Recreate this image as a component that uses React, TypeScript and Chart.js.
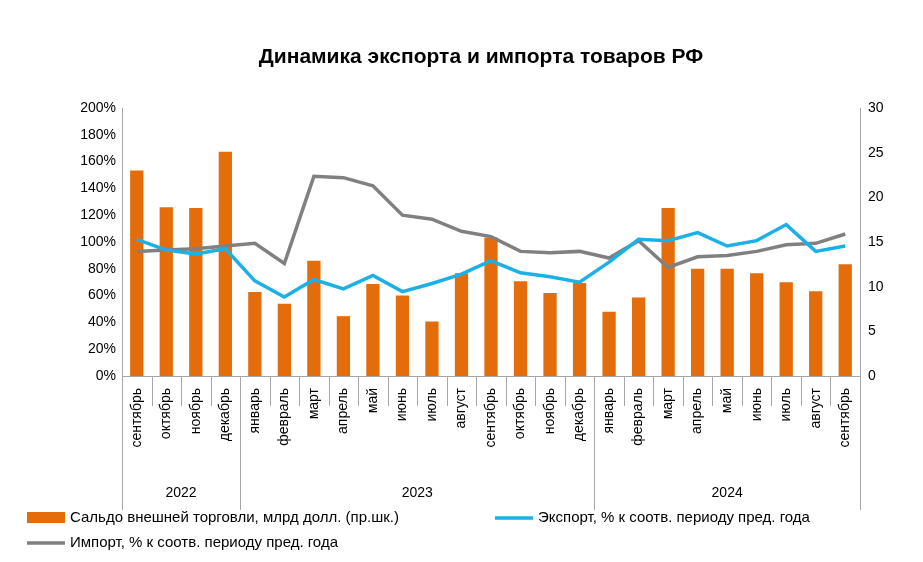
import React, { useEffect, useRef } from "react";
import { Chart, registerables } from "chart.js";
Chart.register(...registerables);

const months = ["сентябрь","октябрь","ноябрь","декабрь","январь","февраль","март","апрель","май","июнь","июль","август","сентябрь","октябрь","ноябрь","декабрь","январь","февраль","март","апрель","май","июнь","июль","август","сентябрь"];
const years = [{ label: "2022", from: 0, to: 3 }, { label: "2023", from: 4, to: 15 }, { label: "2024", from: 16, to: 24 }];
const balance = [23, 18.9, 18.8, 25.1, 9.4, 8.1, 12.9, 6.7, 10.3, 9.0, 6.1, 11.5, 15.5, 10.6, 9.3, 10.4, 7.2, 8.8, 18.8, 12.0, 12.0, 11.5, 10.5, 9.5, 12.5];
const exportPct = [102, 94, 91, 95, 71, 59, 72, 65, 75, 63, 69, 76, 86, 77, 74, 70, 85, 102, 101, 107, 97, 101, 113, 93, 97];
const importPct = [93, 94, 95, 97, 99, 84, 149, 148, 142, 120, 117, 108, 104, 93, 92, 93, 88, 101, 81, 89, 90, 93, 98, 99, 106];

const FONT = "'Liberation Sans', Arial, sans-serif";

export default function App() {
  const ref = useRef<HTMLCanvasElement>(null);
  useEffect(() => {
    document.body.style.margin = "0";
    const overlay = {
      id: "overlay",
      afterDraw(chart: any) {
        const ctx = chart.ctx;
        const x = chart.scales.x;
        const area = chart.chartArea;
        const step = x.getPixelForValue(1) - x.getPixelForValue(0);
        ctx.save();
        ctx.strokeStyle = "#a6a6a6";
        ctx.lineWidth = 1;
        const yearStarts = years.map(y => y.from);
        for (let i = 0; i <= months.length; i++) {
          const px = Math.round(x.getPixelForValue(i) - step / 2) + 0.5;
          const big = i === 0 || i === months.length || yearStarts.includes(i);
          ctx.beginPath();
          ctx.moveTo(px, area.bottom);
          ctx.lineTo(px, big ? 510 : 406);
          ctx.stroke();
        }
        ctx.fillStyle = "#000";
        ctx.font = `14px ${FONT}`;
        ctx.textAlign = "center";
        ctx.textBaseline = "middle";
        years.forEach(y => {
          const c = (x.getPixelForValue(y.from) + x.getPixelForValue(y.to)) / 2;
          ctx.fillText(y.label, c, 493);
        });
        // title
        ctx.font = `bold 21px ${FONT}`;
        ctx.fillText("Динамика экспорта и импорта товаров РФ", 481, 57);
        // legend
        ctx.font = `15px ${FONT}`;
        ctx.textAlign = "left";
        ctx.fillStyle = "#E46C0A";
        ctx.fillRect(27, 512, 38, 11);
        ctx.fillStyle = "#000";
        ctx.fillText("Сальдо внешней торговли, млрд долл. (пр.шк.)", 70, 518);
        ctx.strokeStyle = "#1BB1E7";
        ctx.lineWidth = 3.5;
        ctx.beginPath(); ctx.moveTo(495, 518); ctx.lineTo(533, 518); ctx.stroke();
        ctx.fillText("Экспорт, % к соотв. периоду пред. года", 538, 518);
        ctx.strokeStyle = "#808080";
        ctx.beginPath(); ctx.moveTo(27, 543); ctx.lineTo(65, 543); ctx.stroke();
        ctx.fillText("Импорт, % к соотв. периоду пред. года", 70, 543);
        ctx.restore();
      },
    };
    const chart = new Chart(ref.current!, {
      type: "bar",
      data: {
        labels: months,
        datasets: [
          { type: "line", label: "Экспорт", data: exportPct, yAxisID: "y", borderColor: "#1BB1E7", borderWidth: 3.5, pointRadius: 0, tension: 0, order: 1 } as any,
          { type: "line", label: "Импорт", data: importPct, yAxisID: "y", borderColor: "#808080", borderWidth: 3.5, pointRadius: 0, tension: 0, order: 2 } as any,
          { type: "bar", label: "Сальдо", data: balance, yAxisID: "y1", backgroundColor: "#E46C0A", barPercentage: 0.45, categoryPercentage: 1, order: 3 },
        ],
      },
      options: {
        animation: false,
        responsive: false,
        layout: { padding: { top: 108, left: 0, right: 0, bottom: 0 } },
        plugins: { legend: { display: false }, tooltip: { enabled: false } },
        scales: {
          x: {
            grid: { display: false },
            border: { display: true, color: "#a6a6a6" },
            ticks: { maxRotation: 90, minRotation: 90, color: "#000", font: { size: 14, family: FONT }, padding: 4 },
            afterFit(s: any) { s.height = 186; },
          },
          y: {
            position: "left", min: 0, max: 200,
            grid: { display: false, drawTicks: false },
            border: { display: true, color: "#a6a6a6" },
            ticks: { stepSize: 20, color: "#000", font: { size: 14, family: FONT }, callback: (v: any) => v + "%", padding: 6 },
            afterFit(s: any) { s.width = 122; },
          },
          y1: {
            position: "right", min: 0, max: 30,
            grid: { display: false, drawTicks: false },
            border: { display: true, color: "#a6a6a6" },
            ticks: { stepSize: 5, color: "#000", font: { size: 14, family: FONT }, padding: 8 },
            afterFit(s: any) { s.width = 63; },
          },
        },
      },
      plugins: [overlay],
    });
    return () => chart.destroy();
  }, []);
  return <canvas ref={ref} width={923} height={562} style={{ display: "block" }} />;
}
